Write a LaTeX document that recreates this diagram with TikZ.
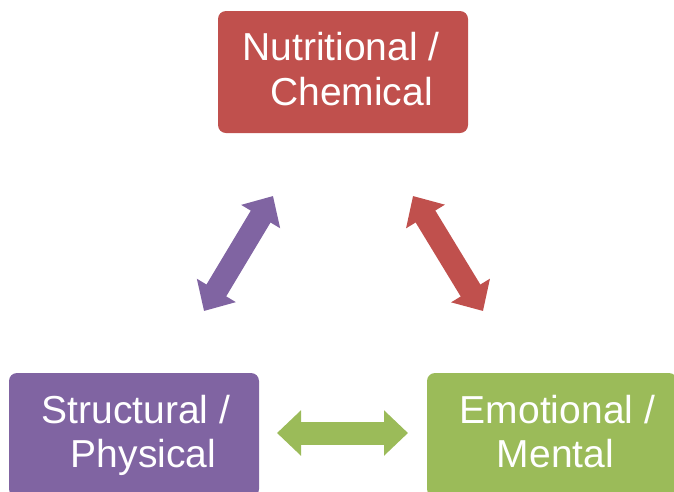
\documentclass[tikz,border=0pt]{standalone}
\usepackage{fontspec}
\setmainfont{Liberation Sans}
\usetikzlibrary{arrows.meta}
\definecolor{cred}{HTML}{C0504D}
\definecolor{cpurple}{HTML}{8064A2}
\definecolor{cgreen}{HTML}{9BBB59}
\tikzset{
  boxnode/.style={rectangle, rounded corners=8pt, inner sep=0pt, minimum width=250pt},
  lbl/.style={anchor=base, inner sep=0pt, text=white, font=\fontsize{39pt}{44pt}\selectfont},
  dblarrow/.style={line width=23pt, {Triangle[width=44pt,length=24pt]}-{Triangle[width=44pt,length=24pt]}}
}
\begin{document}
\begin{tikzpicture}[x=1pt,y=-1pt]
\useasboundingbox (0,0) rectangle (674,491);
\clip (0,0) rectangle (674,491);
% boxes
\node[boxnode, fill=cred, minimum height=122pt] (nut) at (343,72) {};
\node[boxnode, fill=cpurple, minimum height=124pt] (str) at (134,435) {};
\node[boxnode, fill=cgreen, minimum height=124pt] (emo) at (552,435) {};
% labels
\node[lbl] (nutA) at (341,60) {Nutritional /};
\node[lbl] (nutB) at (351.5,105) {Chemical};
\node[lbl] (strA) at (136,423) {Structural /};
\node[lbl] (strB) at (143.5,467) {Physical};
\node[lbl] (emoA) at (557.5,423) {Emotional /};
\node[lbl] (emoB) at (555.5,467) {Mental};
% arrow end points
\coordinate (p1) at (273,196);
\coordinate (p2) at (204,311);
\coordinate (r1) at (413,196);
\coordinate (r2) at (483,311);
\coordinate (g1) at (277,433);
\coordinate (g2) at (408,433);
% arrows
\draw[dblarrow, cpurple] (p1) -- (p2);
\draw[dblarrow, cred] (r1) -- (r2);
\draw[dblarrow, cgreen] (g1) -- (g2);
\end{tikzpicture}
\end{document}
